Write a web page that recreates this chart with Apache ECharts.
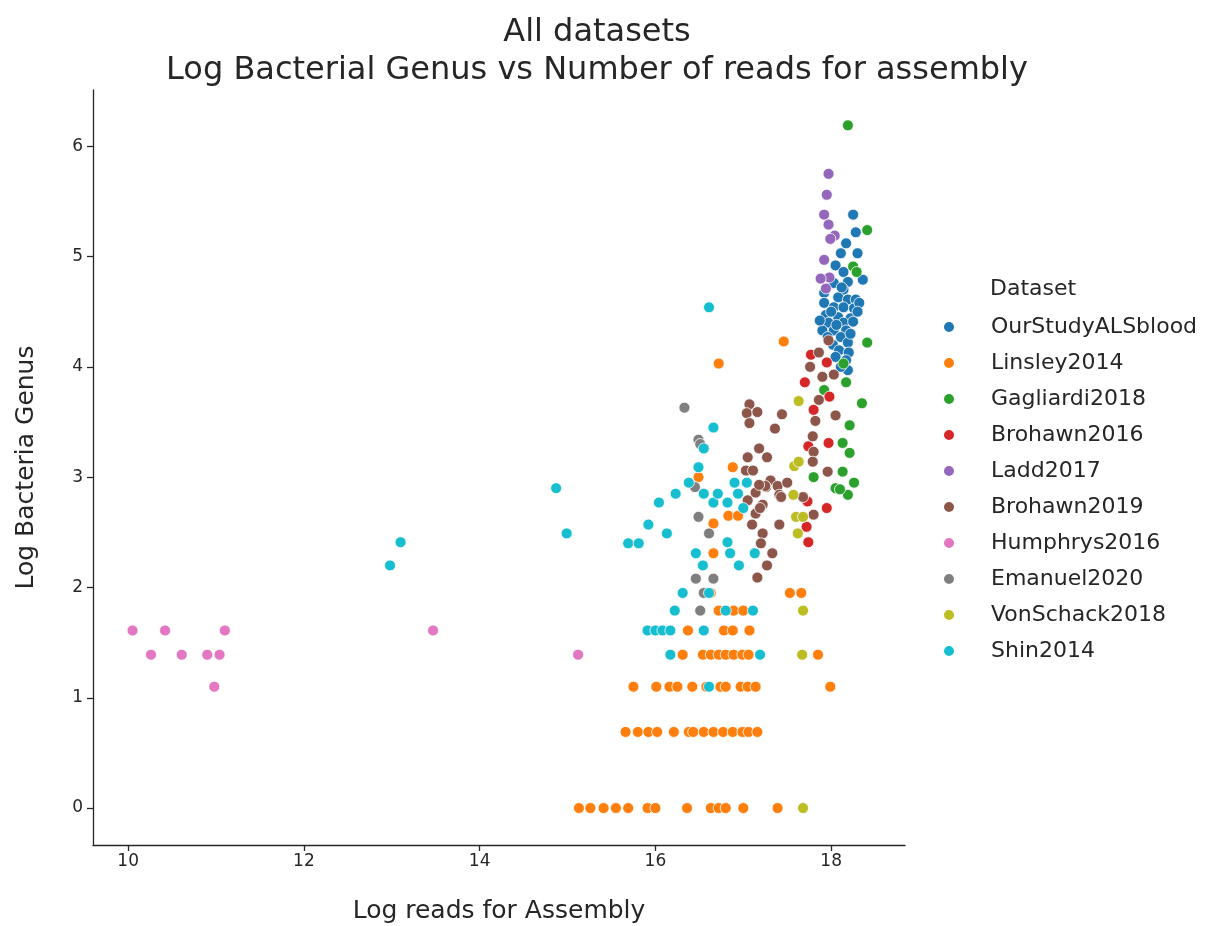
<!DOCTYPE html>
<html><head><meta charset="utf-8">
<script src="https://cdn.jsdelivr.net/npm/echarts@6/dist/echarts.min.js"></script>
<style>html,body{margin:0;padding:0;background:#fff}#c{width:1207px;height:926px}</style>
</head><body><div id="c"></div>
<script>
const xTicks = [10, 12, 14, 16, 18];
const yTicks = [0, 1, 2, 3, 4, 5, 6];
const datasetNames = ["OurStudyALSblood","Linsley2014","Gagliardi2018","Brohawn2016","Ladd2017","Brohawn2019","Humphrys2016","Emanuel2020","VonSchack2018","Shin2014"];
const colors = ["#1f77b4","#ff7f0e","#2ca02c","#d62728","#9467bd","#8c564b","#e377c2","#7f7f7f","#bcbd22","#17becf"];

const ourStudyALSblood = [[18.25,5.38],[18.28,5.22],[18.17,5.12],[18.11,5.03],[18.30,5.03],[18.05,4.92],[18.14,4.86],[18.36,4.79],[18.19,4.77],[18.03,4.76],[18.14,4.70],[17.92,4.67],[18.08,4.63],[18.19,4.61],[18.28,4.61],[17.92,4.58],[18.03,4.54],[18.14,4.54],[18.26,4.53],[17.94,4.47],[18.08,4.45],[18.22,4.44],[17.97,4.40],[18.14,4.40],[18.25,4.41],[17.90,4.33],[18.03,4.33],[18.17,4.33],[17.96,4.27],[18.11,4.27],[18.19,4.22],[18.02,4.20],[18.09,4.15],[18.20,4.13],[18.05,4.09],[18.17,4.06],[18.19,3.97],[18.11,4.00],[18.00,4.50],[18.32,4.58],[18.12,4.72],[17.87,4.42],[18.06,4.38],[18.22,4.30],[18.30,4.50]];
const linsley2014 = [[17.46,4.23],[16.72,4.03],[16.88,3.09],[16.49,3.00],[16.83,2.65],[16.94,2.65],[16.66,2.58],[16.66,2.31],[17.53,1.95],[17.66,1.95],[16.63,1.95],[16.72,1.79],[16.89,1.79],[17.00,1.79],[16.37,1.61],[16.78,1.61],[16.88,1.61],[17.07,1.61],[16.31,1.39],[16.54,1.39],[16.63,1.39],[16.72,1.39],[16.80,1.39],[16.89,1.39],[16.99,1.39],[17.06,1.39],[17.85,1.39],[15.75,1.10],[16.01,1.10],[16.16,1.10],[16.25,1.10],[16.42,1.10],[16.58,1.10],[16.74,1.10],[16.80,1.10],[16.97,1.10],[17.05,1.10],[17.14,1.10],[17.99,1.10],[15.66,0.69],[15.80,0.69],[15.92,0.69],[16.02,0.69],[16.21,0.69],[16.38,0.69],[16.43,0.69],[16.55,0.69],[16.66,0.69],[16.77,0.69],[16.88,0.69],[16.99,0.69],[17.06,0.69],[17.16,0.69],[15.13,0],[15.26,0],[15.41,0],[15.55,0],[15.69,0],[15.91,0],[16.00,0],[16.36,0],[16.63,0],[16.72,0],[16.80,0],[17.00,0],[17.39,0]];
const gagliardi2018 = [[18.19,6.19],[18.41,5.24],[18.25,4.91],[18.29,4.86],[18.41,4.22],[18.14,4.03],[18.17,3.86],[17.92,3.79],[18.35,3.67],[18.21,3.47],[18.13,3.31],[18.21,3.22],[17.80,3.00],[18.13,3.05],[18.26,2.95],[18.05,2.90],[18.19,2.84],[18.10,2.89]];
const brohawn2016 = [[17.77,4.11],[17.95,4.04],[17.70,3.86],[17.98,3.73],[17.80,3.61],[17.97,3.31],[17.74,3.28],[17.73,2.78],[17.95,2.72],[17.74,2.41],[17.72,2.55]];
const ladd2017 = [[17.97,5.75],[17.95,5.56],[17.92,5.38],[17.97,5.29],[18.04,5.19],[17.99,5.16],[17.92,4.97],[17.98,4.81],[17.88,4.80],[17.94,4.71]];
const brohawn2019 = [[17.97,4.24],[17.86,4.13],[17.76,4.00],[17.90,3.91],[18.03,3.93],[17.86,3.70],[18.05,3.56],[17.82,3.51],[17.79,3.37],[17.80,3.23],[17.79,3.14],[17.96,3.05],[17.68,2.82],[17.80,2.66],[17.07,3.66],[17.04,3.58],[17.16,3.59],[17.07,3.49],[17.44,3.57],[17.36,3.44],[17.18,3.26],[17.05,3.18],[17.27,3.18],[17.03,3.06],[17.11,3.06],[17.31,2.97],[17.26,2.91],[17.39,2.92],[17.50,2.95],[17.41,2.84],[17.14,2.86],[17.05,2.79],[17.22,2.75],[17.14,2.67],[17.10,2.57],[17.22,2.49],[17.41,2.57],[17.20,2.40],[17.33,2.31],[17.27,2.20],[17.16,2.09],[17.43,2.82],[17.25,2.92],[17.18,2.93],[17.19,2.72]];
const humphrys2016 = [[10.05,1.61],[10.42,1.61],[11.10,1.61],[13.47,1.61],[10.26,1.39],[10.61,1.39],[10.90,1.39],[11.04,1.39],[10.98,1.10],[15.12,1.39]];
const emanuel2020 = [[16.33,3.63],[16.49,3.34],[16.51,3.30],[16.45,2.91],[16.49,2.64],[16.61,2.49],[16.46,2.08],[16.66,2.08],[16.55,1.95],[16.51,1.79]];
const vonSchack2018 = [[17.63,3.69],[17.58,3.10],[17.63,3.14],[17.57,2.84],[17.60,2.64],[17.68,2.64],[17.62,2.49],[17.68,1.79],[17.67,1.39],[17.68,0]];
const shin2014 = [[12.98,2.20],[13.10,2.41],[14.87,2.90],[14.99,2.49],[15.69,2.40],[15.81,2.40],[15.92,2.57],[16.13,2.49],[16.04,2.77],[16.23,2.85],[16.38,2.95],[16.49,3.09],[16.55,3.26],[16.66,3.45],[16.61,4.54],[16.55,2.85],[16.66,2.77],[16.71,2.85],[16.82,2.77],[16.90,2.95],[17.04,2.95],[16.94,2.85],[17.00,2.72],[16.82,2.41],[16.46,2.31],[16.85,2.31],[17.13,2.31],[16.54,2.20],[16.95,2.20],[16.31,1.95],[16.61,1.95],[16.22,1.79],[16.80,1.79],[17.11,1.79],[15.91,1.61],[16.00,1.61],[16.08,1.61],[16.17,1.61],[16.55,1.61],[16.17,1.39],[17.19,1.39],[16.61,1.10]];

const allData = [ourStudyALSblood, linsley2014, gagliardi2018, brohawn2016, ladd2017, brohawn2019, humphrys2016, emanuel2020, vonSchack2018, shin2014];
const txt = "#262626";
const ff = "DejaVu Sans";

const chart = echarts.init(document.getElementById('c'), null, {renderer:'canvas'});
chart.setOption({
  animation: false,
  backgroundColor: '#fff',
  title: {
    text: 'All datasets\nLog Bacterial Genus vs Number of reads for assembly',
    left: 592, top: 9, textAlign: 'center',
    textStyle: {fontFamily: ff, fontSize: 32, fontWeight: 'normal', color: txt, lineHeight: 38, align: 'center'}
  },
  graphic: [{type:'text', left: 990, top: 278, style:{text:'Dataset', fontFamily: ff, fontSize: 22, fill: txt}}],
  legend: {
    orient: 'vertical', left: 937, top: 310, itemWidth: 12, itemHeight: 12, itemGap: 12, icon: 'circle',
    textStyle: {fontFamily: ff, fontSize: 22, color: txt, lineHeight: 24, padding: [0,0,0,31]},
    data: datasetNames
  },
  grid: {left: 93, right: 302, top: 90, bottom: 81, outerBoundsMode: 'none', containLabel: false},
  xAxis: {
    type: 'value', min: 9.6, max: 18.84,
    name: 'Log reads for Assembly', nameLocation: 'middle', nameGap: 54,
    nameTextStyle: {fontFamily: ff, fontSize: 25, color: txt},
    axisLine: {show: true, onZero: false, lineStyle: {color: txt, width: 1.3}},
    axisTick: {show: true, inside: false, length: 6, lineStyle: {color: txt, width: 1.3}, customValues: xTicks},
    axisLabel: {fontFamily: ff, fontSize: 17, color: txt, margin: 8, customValues: xTicks},
    splitLine: {show: false}
  },
  yAxis: {
    type: 'value', min: -0.335, max: 6.51,
    name: 'Log Bacteria Genus', nameLocation: 'middle', nameGap: 54,
    nameTextStyle: {fontFamily: ff, fontSize: 25, color: txt},
    axisLine: {show: true, onZero: false, lineStyle: {color: txt, width: 1.3}},
    axisTick: {show: true, inside: false, length: 6, lineStyle: {color: txt, width: 1.3}, customValues: yTicks},
    axisLabel: {fontFamily: ff, fontSize: 17, color: txt, margin: 10, customValues: yTicks},
    splitLine: {show: false}
  },
  series: datasetNames.map((n, i) => ({
    name: n, type: 'scatter', data: allData[i], symbol: 'circle', symbolSize: 11,
    itemStyle: {color: colors[i], borderColor: '#fff', borderWidth: 0.8, opacity: 1}
  }))
});
</script></body></html>
